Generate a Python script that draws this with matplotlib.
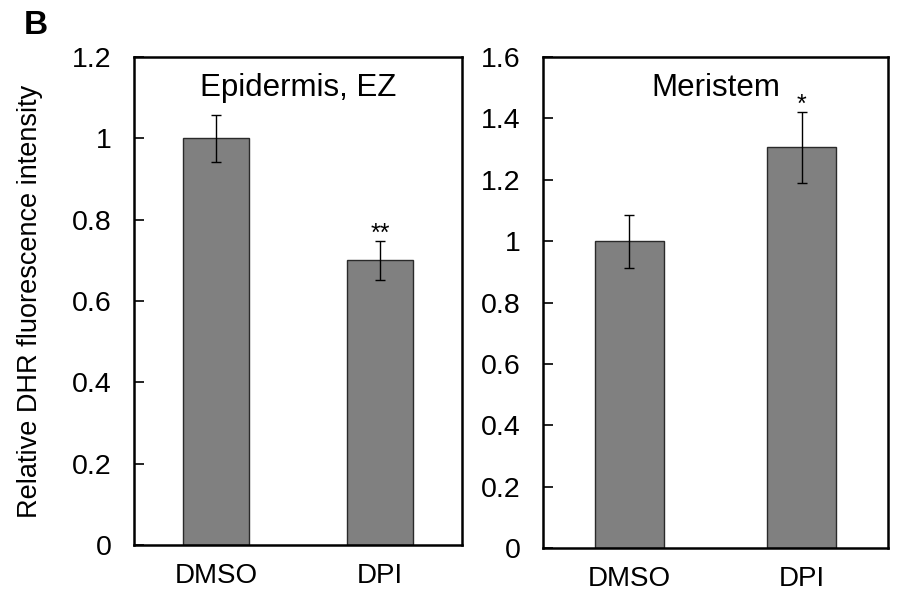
import matplotlib.pyplot as plt

plt.rcParams['font.family'] = ['Liberation Sans', 'DejaVu Sans']

groups = ['DMSO', 'DPI']
epi_vals = [1.0, 0.70]
epi_err = [0.058, 0.048]
epi_sig = ['', '**']
mer_vals = [1.0, 1.306]
mer_err = [0.086, 0.115]
mer_sig = ['', '*']

fig = plt.figure(figsize=(9, 5.99), dpi=100)
ax1 = fig.add_axes([0.1489, 0.0902, 0.3644, 0.8146])
ax2 = fig.add_axes([0.6033, 0.0851, 0.3834, 0.8197])


def draw_panel(ax, vals, errs, sig, title, ymax, step):
    x = range(len(groups))
    ax.bar(x, vals, width=0.4, color='#808080', edgecolor='#2a2a2a', linewidth=1.0,
           yerr=errs, error_kw=dict(ecolor='black', elinewidth=1.0, capsize=3.5, capthick=1.0))
    for i, s in enumerate(sig):
        if s:
            ax.text(i, vals[i] + errs[i] - ymax * 0.01, s, ha='center', va='bottom', fontsize=18)
    ax.set_xlim(-0.5, 1.5)
    ax.set_ylim(0, ymax)
    ticks = [round(k * step, 1) for k in range(int(round(ymax / step)) + 1)]
    ax.set_yticks(ticks)
    ax.set_yticklabels(['%g' % t for t in ticks])
    ax.set_xticks(list(x))
    ax.set_xticklabels(groups)
    ax.tick_params(axis='y', direction='in', length=7, width=1.2, labelsize=20.5, pad=16)
    ax.tick_params(axis='x', length=0, labelsize=20, pad=13)
    for sp in ax.spines.values():
        sp.set_linewidth(1.8)
    ax.text(0.5, 0.968, title, transform=ax.transAxes, ha='center', va='top', fontsize=22.5)


draw_panel(ax1, epi_vals, epi_err, epi_sig, 'Epidermis, EZ', 1.2, 0.2)
draw_panel(ax2, mer_vals, mer_err, mer_sig, 'Meristem', 1.6, 0.2)

ax1.set_ylabel('Relative DHR fluorescence intensity', fontsize=19.5, labelpad=21)
fig.text(0.04, 0.957, 'B', fontsize=24, fontweight='bold', ha='center', va='center')

fig.savefig('out.png', dpi=100)
